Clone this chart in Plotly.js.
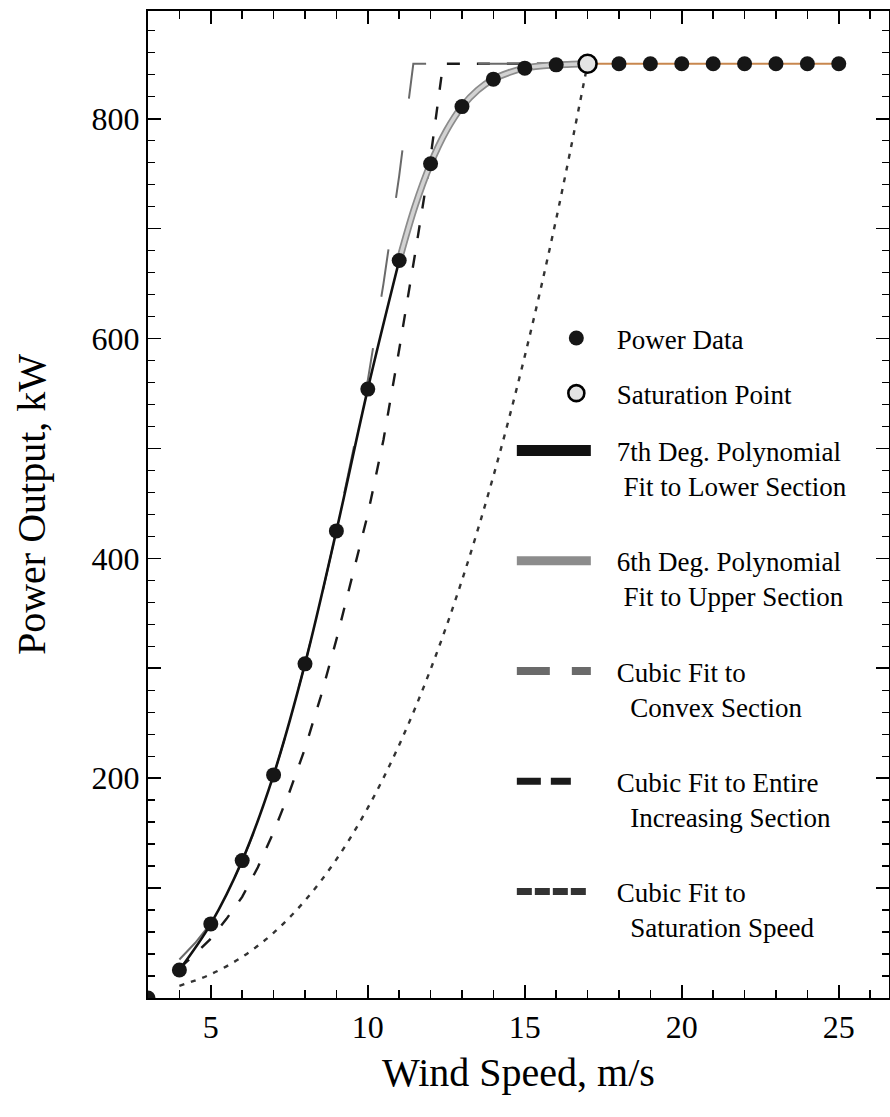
<!DOCTYPE html>
<html><head><meta charset="utf-8">
<script src="https://cdn.plot.ly/plotly-3.0.1.min.js"></script>
<style>html,body{margin:0;padding:0;background:#fff;} #chart{width:890px;height:1117px;}</style>
</head><body><div id="chart"></div>
<script>
// ---- data ----
const speedData = [3,4,5,6,7,8,9,10,11,12,13,14,15,16,17,18,19,20,21,22,23,24,25];
const powerData = [0,25.5,67.4,125,203,304,425,554,671,759,811,836,846,849,850,850,850,850,850,850,850,850,850];

const satSpeed = [17];
const satPower = [850];

const ratedSpeed = [17,25];
const ratedPower = [850,850];

const poly7Speed = [4,5,6,7,8,9,10,11];
const poly7Power = [25.5,67.4,125,203,304,425,554,671];

const poly6Speed = [11,11.5,12,12.5,13,13.5,14,14.5,15,15.5,16,16.5,17];
const poly6Power = [671,720,759,789,811,826,836,842,846,848,849,849.6,850];

const convexSpeed = [4,4.5,5,5.5,6,6.5,7,7.5,8,8.5,9,9.5,10,10.5,11,11.45,17];
const convexPower = [35,50,68,94,124,160,202,250,304,362,425,493,562,650,748,850,850];

const entireSpeed = [4,4.5,5,5.5,6,6.5,7,7.5,8,8.5,9,9.5,10,10.5,11,11.5,12,12.4,17];
const entirePower = [27,40,54,72,92,119,151,187,227,274,326,382,440,508,590,676,765,850,850];

const satFitSpeed = [4,5,6,7,8,9,10,11,12,13,14,15,16,17];
const satFitPower = [11.1,21.6,37.4,59.3,88.6,126.1,173,230.3,299,380.1,474.8,584,708.7,850];

const yTickVals = [0,100,200,300,400,500,600,700,800];
const yTickText = ['','','200','','400','','600','','800'];

const names = {
  data: 'Power Data',
  sat: 'Saturation Point',
  p7: '7th Deg. Polynomial<br>\u00a0Fit to Lower Section',
  p6: '6th Deg. Polynomial<br>\u00a0Fit to Upper Section',
  convex: 'Cubic Fit to<br>\u00a0\u00a0Convex Section',
  entire: 'Cubic Fit to Entire<br>\u00a0\u00a0Increasing Section',
  satfit: 'Cubic Fit to<br>\u00a0\u00a0Saturation Speed'
};

const FONT = 'Liberation Serif';
const TXT = '#000';

const traces = [
  {x: satFitSpeed, y: satFitPower, mode:'lines', type:'scatter', name: names.satfit,
   line:{color:'#333', width:2.4, dash:'5px,7px', shape:'spline'},
   legend:'legend2', legendgroup:'g7', legendrank:7},
  {x: entireSpeed, y: entirePower, mode:'lines', type:'scatter', name: names.entire,
   line:{color:'#1a1a1a', width:2.4, dash:'13px,17px'},
   legend:'legend2', legendgroup:'g6', legendrank:6},
  {x: convexSpeed, y: convexPower, mode:'lines', type:'scatter', name: names.convex,
   line:{color:'#6a6a6a', width:2, dash:'48px,52px'},
   legend:'legend2', legendgroup:'g5', legendrank:5},
  {x: poly6Speed, y: poly6Power, mode:'lines', type:'scatter', name: names.p6,
   line:{color:'#8c8c8c', width:7, shape:'spline'},
   legend:'legend2', legendgroup:'g4', legendrank:4},
  {x: poly6Speed, y: poly6Power, mode:'lines', type:'scatter', name: 'upper fit core',
   line:{color:'#d2d2d2', width:3.5, shape:'spline'}, showlegend:false,
   legend:'legend2', legendgroup:'g4'},
  {x: poly7Speed, y: poly7Power, mode:'lines', type:'scatter', name: names.p7,
   line:{color:'#111', width:2.6, shape:'spline'},
   legend:'legend2', legendgroup:'g3', legendrank:3},
  {x: ratedSpeed, y: ratedPower, mode:'lines', type:'scatter', name:'Rated Power',
   line:{color:'#c8874e', width:2.2}, showlegend:false},
  {x: speedData, y: powerData, mode:'markers', type:'scatter', name: names.data,
   marker:{color:'#161616', size:15, symbol:'circle'},
   legend:'legend', legendgroup:'g1', legendrank:1},
  {x: satSpeed, y: satPower, mode:'markers', type:'scatter', name: names.sat,
   marker:{color:'#e4e4e4', size:18, symbol:'circle', line:{color:'#000', width:2.6}},
   legend:'legend', legendgroup:'g2', legendrank:2}
];

const legendBase = {
  xanchor:'left', yanchor:'top', bgcolor:'rgba(0,0,0,0)', borderwidth:0,
  font:{family:FONT, size:27, color:TXT}, itemwidth:95, valign:'top'
};

const layout = {
  width:890, height:1117,
  margin:{l:148, r:1, t:11, b:119},
  paper_bgcolor:'#fff', plot_bgcolor:'#fff',
  font:{family:FONT},
  xaxis:{
    range:[3,26.6], showline:true, linecolor:'#000', linewidth:2, mirror:'allticks',
    ticks:'inside', ticklen:13, tickwidth:1.6, tickcolor:'#000',
    tickmode:'linear', tick0:0, dtick:5,
    minor:{tick0:0, dtick:1, ticks:'inside', ticklen:8, tickwidth:1.4, tickcolor:'#000'},
    showgrid:false, zeroline:false,
    tickfont:{family:FONT, size:32, color:TXT},
    title:{text:'Wind Speed, m/s', font:{family:FONT, size:40, color:TXT}, standoff:14}
  },
  yaxis:{
    range:[0,898], showline:true, linecolor:'#000', linewidth:2, mirror:'allticks',
    ticks:'inside', ticklen:13, tickwidth:1.6, tickcolor:'#000',
    tickmode:'array', tickvals:yTickVals, ticktext:yTickText,
    minor:{tick0:0, dtick:20, ticks:'inside', ticklen:7, tickwidth:1.4, tickcolor:'#000'},
    showgrid:false, zeroline:false,
    tickfont:{family:FONT, size:32, color:TXT},
    title:{text:'Power Output, kW', font:{family:FONT, size:40, color:TXT}, standoff:34}
  },
  legend: Object.assign({}, legendBase, {x:0.491, y:0.693, tracegroupgap:17}),
  legend2: Object.assign({}, legendBase, {x:0.491, y:0.579, tracegroupgap:37}),
  showlegend:true
};

// legend sample styling (longer, thicker samples as in the original figure)
const legendSamples = {};
legendSamples[names.p7] = {len:74, w:11, dash:'none'};
legendSamples[names.p6] = {len:74, w:9, dash:'none'};
legendSamples[names.convex] = {len:74, w:8, dash:'33,22'};
legendSamples[names.entire] = {len:54, w:7, dash:'24,10'};
legendSamples[names.satfit] = {len:69, w:7, dash:'15,3'};

function styleLegend(){
  document.querySelectorAll('g.traces').forEach(function(g){
    const d = g.__data__;
    if(!d || !d[0] || !d[0].trace) return;
    const nm = d[0].trace.name;
    const s = legendSamples[nm];
    const p = g.querySelector('.legendlines path');
    if(s && p){
      p.setAttribute('d', 'M5,0h' + s.len);
      p.style.strokeWidth = s.w + 'px';
      p.style.strokeDasharray = s.dash;
    }
    const sym = g.querySelector('.legendsymbols');
    if(sym && (nm === names.data || nm === names.sat)){
      sym.setAttribute('transform', 'translate(12,0)');
    }
  });
}

Plotly.newPlot('chart', traces, layout, {displayModeBar:false, staticPlot:true}).then(styleLegend);
</script>
</body></html>
